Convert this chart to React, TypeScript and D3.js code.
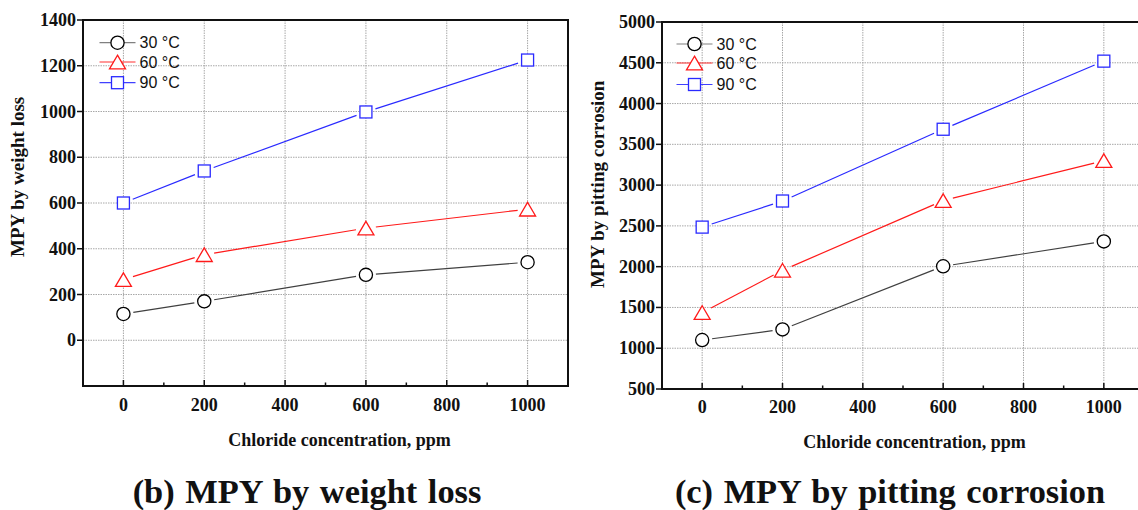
import React from "react";
import * as d3 from "d3";

// ---------- data ----------
const concentrations = [0, 200, 600, 1000];
const seriesLabels = ["30 °C", "60 °C", "90 °C"];

const weightLoss30 = [115, 170, 286, 341];
const weightLoss60 = [265, 374, 490, 573];
const weightLoss90 = [600, 740, 998, 1225];

const pitting30 = [1100, 1231, 2005, 2310];
const pitting60 = [1437, 1955, 2810, 3300];
const pitting90 = [2485, 2805, 3685, 4520];

const xTickValues = [0, 200, 400, 600, 800, 1000];
const xMinorTicks = [-100, 100, 300, 500, 700, 900, 1100];
const weightTicks = [0, 200, 400, 600, 800, 1000, 1200, 1400];
const pittingTicks = [500, 1000, 1500, 2000, 2500, 3000, 3500, 4000, 4500, 5000];

const lineColors = ["#404040", "#ff1a1a", "#2a2aff"];
const markerColors = ["#000000", "#ff1a1a", "#2a2aff"];
const legendLineColors = ["#808080", "#ff3030", "#4040ff"];
const shapes = ["circle", "triangle", "square"];

const SERIF = "'Liberation Serif', 'Times New Roman', serif";
const SANS = "'Liberation Sans', Arial, sans-serif";

function Marker({ shape, x, y, color }: { shape: string; x: number; y: number; color: string }) {
  const sw = 1.3;
  if (shape === "circle") {
    return <circle cx={x} cy={y} r={6.6} fill="#fff" stroke={color} strokeWidth={sw} />;
  }
  if (shape === "triangle") {
    const w = 8, h = 6.8;
    return (
      <path
        d={`M${x},${y - h}L${x + w},${y + h}L${x - w},${y + h}Z`}
        fill="#fff"
        stroke={color}
        strokeWidth={sw}
      />
    );
  }
  const s = 6;
  return <rect x={x - s} y={y - s} width={2 * s} height={2 * s} fill="#fff" stroke={color} strokeWidth={sw} />;
}

type PanelProps = {
  left: number;
  right: number;
  top: number;
  bottom: number;
  yDomain: [number, number];
  yTicks: number[];
  series: number[][];
  yTitle: string;
  yTitleX: number;
  yTitleY: number;
  xTitleX: number;
  xTitleY: number;
  xLabelY: number;
  legendX: number;
  legendY: number[];
};

function Panel(p: PanelProps) {
  const x = d3.scaleLinear().domain([-100, 1100]).range([p.left, p.right]);
  const y = d3.scaleLinear().domain(p.yDomain).range([p.bottom, p.top]);
  const gap = 10;

  const segments = (vals: number[]) => {
    const pts = concentrations.map((c, i) => [x(c), y(vals[i])] as [number, number]);
    const segs: [number, number][][] = [];
    for (let i = 0; i < pts.length - 1; i++) {
      const [x1, y1] = pts[i];
      const [x2, y2] = pts[i + 1];
      const len = Math.hypot(x2 - x1, y2 - y1);
      const ux = (x2 - x1) / len, uy = (y2 - y1) / len;
      segs.push([
        [x1 + ux * gap, y1 + uy * gap],
        [x2 - ux * gap, y2 - uy * gap],
      ]);
    }
    return segs;
  };
  const lineGen = d3.line<[number, number]>();

  return (
    <g>
      {/* grid */}
      {xTickValues.map((t) => (
        <line key={"gx" + t} x1={x(t)} x2={x(t)} y1={p.top} y2={p.bottom}
          stroke="#a8a8a8" strokeWidth={1} strokeDasharray="1.5 1" />
      ))}
      {p.yTicks.filter((t) => y(t) > p.top + 1 && y(t) < p.bottom - 1).map((t) => (
        <line key={"gy" + t} x1={p.left} x2={p.right} y1={y(t)} y2={y(t)}
          stroke="#a8a8a8" strokeWidth={1} strokeDasharray="1.5 1" />
      ))}
      {/* series */}
      {p.series.map((vals, si) => (
        <g key={"s" + si}>
          {segments(vals).map((seg, k) => (
            <path key={k} d={lineGen(seg) || ""} fill="none" stroke={lineColors[si]} strokeWidth={1.2} />
          ))}
          {concentrations.map((c, i) => (
            <Marker key={i} shape={shapes[si]} x={x(c)} y={y(vals[i])} color={markerColors[si]} />
          ))}
        </g>
      ))}
      {/* frame */}
      <rect x={p.left} y={p.top} width={p.right - p.left} height={p.bottom - p.top}
        fill="none" stroke="#111" strokeWidth={2} />
      {/* x ticks */}
      {xTickValues.map((t) => (
        <line key={"xt" + t} x1={x(t)} x2={x(t)} y1={p.bottom} y2={p.bottom - 6} stroke="#111" strokeWidth={1.5} />
      ))}
      {xMinorTicks.map((t) => (
        <line key={"xm" + t} x1={x(t)} x2={x(t)} y1={p.bottom} y2={p.bottom - 3.5} stroke="#111" strokeWidth={1.5} />
      ))}
      {xTickValues.map((t) => (
        <text key={"xl" + t} x={x(t)} y={p.xLabelY} textAnchor="middle"
          fontFamily={SERIF} fontWeight="bold" fontSize={18} fill="#111">{t}</text>
      ))}
      {/* y ticks */}
      {p.yTicks.map((t) => (
        <g key={"yt" + t}>
          <line x1={p.left - 6} x2={p.left} y1={y(t)} y2={y(t)} stroke="#111" strokeWidth={1.5} />
          <text x={p.left - 7} y={y(t) + 6} textAnchor="end"
            fontFamily={SERIF} fontWeight="bold" fontSize={18} fill="#111">{t}</text>
        </g>
      ))}
      {/* axis titles */}
      <text x={p.xTitleX} y={p.xTitleY} textAnchor="middle"
        fontFamily={SERIF} fontWeight="bold" fontSize={18} fill="#111">Chloride concentration, ppm</text>
      <text transform={`translate(${p.yTitleX},${p.yTitleY}) rotate(-90)`} textAnchor="start"
        fontFamily={SERIF} fontWeight="bold" fontSize={19} fill="#111">{p.yTitle}</text>
      {/* legend */}
      {seriesLabels.map((lab, i) => (
        <g key={"lg" + i}>
          <line x1={p.legendX - 18} x2={p.legendX + 18} y1={p.legendY[i]} y2={p.legendY[i]}
            stroke={legendLineColors[i]} strokeWidth={1.2} />
          <Marker shape={shapes[i]} x={p.legendX} y={p.legendY[i]} color={markerColors[i]} />
          <text x={p.legendX + 22} y={p.legendY[i] + 5.5} fontFamily={SANS} fontSize={16} fill="#111">{lab}</text>
        </g>
      ))}
    </g>
  );
}

export default function App() {
  return (
    <div style={{ position: "absolute", left: 0, top: 0, width: 1138, height: 510, overflow: "hidden" }}>
      <svg width={1138} height={510} style={{ display: "block", background: "#fff" }}>
        <Panel
          left={83} right={568} top={20} bottom={386}
          yDomain={[-200, 1400]} yTicks={weightTicks}
          series={[weightLoss30, weightLoss60, weightLoss90]}
          yTitle="MPY by weight loss" yTitleX={24} yTitleY={257}
          xTitleX={339.5} xTitleY={446} xLabelY={411}
          legendX={117.5} legendY={[42.7, 62, 82.7]}
        />
        <Panel
          left={662} right={1144} top={22} bottom={389}
          yDomain={[500, 5000]} yTicks={pittingTicks}
          series={[pitting30, pitting60, pitting90]}
          yTitle="MPY by pitting corrosion" yTitleX={604} yTitleY={288}
          xTitleX={914.5} xTitleY={448} xLabelY={412.5}
          legendX={694.5} legendY={[44, 63, 84.5]}
        />
        <text x={307} y={503} textAnchor="middle" fontFamily={SERIF} fontWeight="bold" fontSize={34.4}
          fill="#111" style={{ wordSpacing: "2px" }}>(b) MPY by weight loss</text>
        <text x={890} y={503} textAnchor="middle" fontFamily={SERIF} fontWeight="bold" fontSize={34.4}
          fill="#111" style={{ wordSpacing: "2px" }}>(c) MPY by pitting corrosion</text>
      </svg>
    </div>
  );
}
